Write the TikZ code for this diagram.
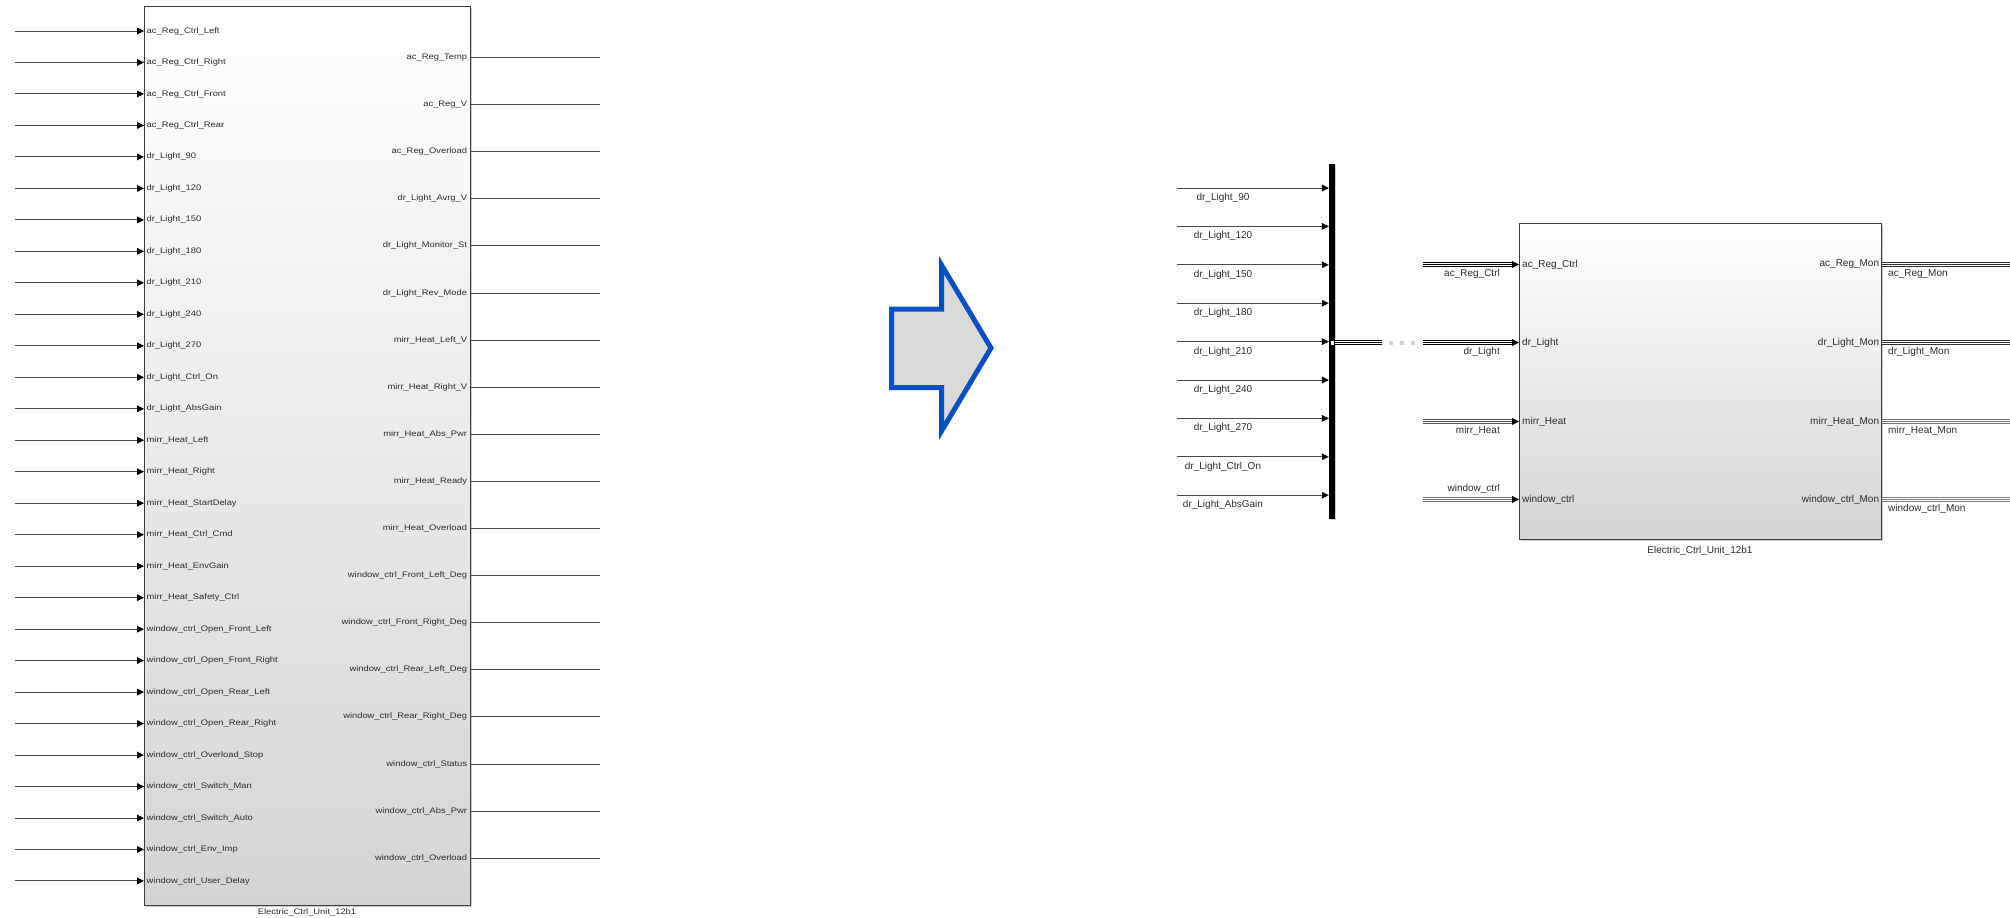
\documentclass[tikz,border=0pt]{standalone}
\usepackage{fontspec}
\setmainfont{Liberation Sans}
\newfontfamily\widesans[FakeStretch=1.17]{Liberation Sans}
\usetikzlibrary{arrows.meta,shadows}

\definecolor{wire}{HTML}{4A4A4A}
\definecolor{ink}{HTML}{2B2B2B}
\definecolor{frame}{HTML}{3C3C3C}
\definecolor{blkbottom}{HTML}{D4D4D4}
\definecolor{pushblue}{HTML}{0B50C2}
\definecolor{pushfill}{HTML}{D9D9D9}

\newcommand{\smallpx}{\widesans\fontsize{8}{9.6}\selectfont}
\newcommand{\largepx}{\fontsize{10}{12}\selectfont}

\tikzset{
  block/.style={draw=frame, line width=1.3pt, rectangle, anchor=north west,
    top color=white, middle color=white, bottom color=blkbottom,
    drop shadow={shadow xshift=1.5pt, shadow yshift=-1.5pt, opacity=0.35, fill=black!60},
    inner sep=0pt},
  tipblack/.tip={Triangle[length=7pt,width=7pt,line width=0pt,color=black,fill=black]},
  sigline/.style={draw=wire, line width=1pt, -tipblack},
  outline/.style={draw=wire, line width=1pt},
  portin/.style={anchor=west, inner sep=3pt, text=ink},
  portout/.style={anchor=east, inner sep=3pt, text=ink},
  buswire/.style={draw=#1, line width=5pt,
    postaction={draw=white, line width=3pt, arrows=-},
    postaction={draw=#1, line width=1pt, arrows=-}},
  busin/.style={draw=#1, line width=5pt, -tipblack,
    postaction={draw=white, line width=3pt, arrows=-, shorten >=7pt},
    postaction={draw=#1, line width=1pt, arrows=-, shorten >=7pt}},
  caption/.style={text=ink, inner sep=0pt},
  pusharrow/.style={draw=pushblue, fill=pushfill, line width=5pt, line join=miter, miter limit=12}
}

\begin{document}
\begin{tikzpicture}[x=1pt, y=-1pt]
\useasboundingbox (0,0) rectangle (2010,918);

% ---------- the unit with all of its scalar ports ----------
\node[block, minimum width=326pt, minimum height=899pt] (ecuL) at (144,6) {};
\node[caption, font=\smallpx] (capL) at (307,912) {Electric\_Ctrl\_Unit\_12b1};

\foreach \name [count=\i from 0] in {
  ac\_Reg\_Ctrl\_Left, ac\_Reg\_Ctrl\_Right, ac\_Reg\_Ctrl\_Front, ac\_Reg\_Ctrl\_Rear,
  dr\_Light\_90, dr\_Light\_120, dr\_Light\_150, dr\_Light\_180, dr\_Light\_210,
  dr\_Light\_240, dr\_Light\_270, dr\_Light\_Ctrl\_On, dr\_Light\_AbsGain,
  mirr\_Heat\_Left, mirr\_Heat\_Right, mirr\_Heat\_StartDelay, mirr\_Heat\_Ctrl\_Cmd,
  mirr\_Heat\_EnvGain, mirr\_Heat\_Safety\_Ctrl,
  window\_ctrl\_Open\_Front\_Left, window\_ctrl\_Open\_Front\_Right,
  window\_ctrl\_Open\_Rear\_Left, window\_ctrl\_Open\_Rear\_Right,
  window\_ctrl\_Overload\_Stop, window\_ctrl\_Switch\_Man, window\_ctrl\_Switch\_Auto,
  window\_ctrl\_Env\_Imp, window\_ctrl\_User\_Delay} {
  \pgfmathsetmacro{\yy}{31+\i*31.48}
  \coordinate (li\i) at (15,\yy);
  \draw[sigline] (li\i) -- (li\i -| ecuL.west);
  \node[portin, font=\smallpx, inner sep=2.5pt] (lin\i) at (li\i -| ecuL.west) {\name};
}

\foreach \name [count=\i from 0] in {
  ac\_Reg\_Temp, ac\_Reg\_V, ac\_Reg\_Overload,
  dr\_Light\_Avrg\_V, dr\_Light\_Monitor\_St, dr\_Light\_Rev\_Mode,
  mirr\_Heat\_Left\_V, mirr\_Heat\_Right\_V, mirr\_Heat\_Abs\_Pwr, mirr\_Heat\_Ready,
  mirr\_Heat\_Overload,
  window\_ctrl\_Front\_Left\_Deg, window\_ctrl\_Front\_Right\_Deg,
  window\_ctrl\_Rear\_Left\_Deg, window\_ctrl\_Rear\_Right\_Deg,
  window\_ctrl\_Status, window\_ctrl\_Abs\_Pwr, window\_ctrl\_Overload} {
  \pgfmathsetmacro{\yy}{57.5+\i*47.1}
  \coordinate (lo\i) at (600,\yy);
  \draw[outline] (lo\i -| ecuL.east) -- (lo\i);
  \node[portout, font=\smallpx, inner sep=4pt] (lout\i) at (lo\i -| ecuL.east) {\name};
}

% ---------- transformation arrow ----------
\draw[pusharrow] (891.5,309) -- (941.5,309) -- (941.5,265) -- (991,348)
  -- (941.5,431) -- (941.5,387.5) -- (891.5,387.5) -- cycle;

% ---------- bus creator for the light signals ----------
\node[fill=black, draw=none, minimum width=6pt, minimum height=355pt, inner sep=0pt,
  drop shadow={shadow xshift=1pt, shadow yshift=-1pt, opacity=0.3, fill=black!60}]
  (bar) at (1332,341.5) {};

\foreach \name [count=\i from 0] in {
  dr\_Light\_90, dr\_Light\_120, dr\_Light\_150, dr\_Light\_180, dr\_Light\_210,
  dr\_Light\_240, dr\_Light\_270, dr\_Light\_Ctrl\_On, dr\_Light\_AbsGain} {
  \pgfmathsetmacro{\yy}{188+\i*38.4}
  \coordinate (bi\i) at (1177,\yy);
  \draw[sigline] (bi\i) -- (bi\i -| bar.west);
  \node[text=ink, font=\largepx, inner sep=0pt] (bil\i) at (1223,\yy+10) {\name};
}

% ---------- the unit with bus ports ----------
\node[block, minimum width=362pt, minimum height=316pt] (ecuR) at (1519,223) {};
\node[caption, font=\largepx] (capR) at (1700,551) {Electric\_Ctrl\_Unit\_12b1};

% bus leaving the bus creator, interrupted by an ellipsis
\coordinate (gapA) at (1382,342.5);
\coordinate (gapB) at (1423,342.5);
\draw[buswire=black] (bar.east |- gapA) -- (gapA);
\foreach \xx [count=\k] in {1391,1402,1413}
  \fill[black!18] (\xx-2.2,340.5) rectangle (\xx+2.2,344.7);
\node[draw=black, fill=white, line width=0.5pt, minimum width=4pt, minimum height=5pt,
  inner sep=0pt] (junction) at (1332,342.5) {};

% bus inputs of the unit
\coordinate (bacIn) at (1423,264.5);
\coordinate (bdrIn) at (1423,342.5);
\coordinate (bmhIn) at (1423,421.5);
\coordinate (bwcIn) at (1423,499.5);
\draw[busin=black] (gapB) -- (gapB -| ecuR.west);
\draw[busin=black] (bacIn) -- (bacIn -| ecuR.west);
\draw[busin=black!65] (bmhIn) -- (bmhIn -| ecuR.west);
\draw[busin=black!55] (bwcIn) -- (bwcIn -| ecuR.west);

\node[text=ink, font=\largepx, anchor=east, inner sep=0pt] at (1500,274) {ac\_Reg\_Ctrl};
\node[text=ink, font=\largepx, anchor=east, inner sep=0pt] at (1500,352) {dr\_Light};
\node[text=ink, font=\largepx, anchor=east, inner sep=0pt] at (1500,431) {mirr\_Heat};
\node[text=ink, font=\largepx, anchor=east, inner sep=0pt] at (1500,489) {window\_ctrl};

\node[portin, font=\largepx] at (bacIn -| ecuR.west) {ac\_Reg\_Ctrl};
\node[portin, font=\largepx] at (bdrIn -| ecuR.west) {dr\_Light};
\node[portin, font=\largepx] at (bmhIn -| ecuR.west) {mirr\_Heat};
\node[portin, font=\largepx] at (bwcIn -| ecuR.west) {window\_ctrl};

% bus outputs of the unit
\coordinate (bacOut) at (2010,264.5);
\coordinate (bdrOut) at (2010,342.5);
\coordinate (bmhOut) at (2010,421.5);
\coordinate (bwcOut) at (2010,499.5);
\draw[buswire=black!80] (bacOut -| ecuR.east) -- (bacOut);
\draw[buswire=black!80] (bdrOut -| ecuR.east) -- (bdrOut);
\draw[buswire=black!55] (bmhOut -| ecuR.east) -- (bmhOut);
\draw[buswire=black!50] (bwcOut -| ecuR.east) -- (bwcOut);

\node[portout, font=\largepx] at (bacOut -| ecuR.east) {ac\_Reg\_Mon};
\node[portout, font=\largepx] at (bdrOut -| ecuR.east) {dr\_Light\_Mon};
\node[portout, font=\largepx] at (bmhOut -| ecuR.east) {mirr\_Heat\_Mon};
\node[portout, font=\largepx] at (bwcOut -| ecuR.east) {window\_ctrl\_Mon};

\node[text=ink, font=\largepx, anchor=west, inner sep=0pt] at (1888,274) {ac\_Reg\_Mon};
\node[text=ink, font=\largepx, anchor=west, inner sep=0pt] at (1888,352) {dr\_Light\_Mon};
\node[text=ink, font=\largepx, anchor=west, inner sep=0pt] at (1888,431) {mirr\_Heat\_Mon};
\node[text=ink, font=\largepx, anchor=west, inner sep=0pt] at (1888,509) {window\_ctrl\_Mon};
\end{tikzpicture}
\end{document}
